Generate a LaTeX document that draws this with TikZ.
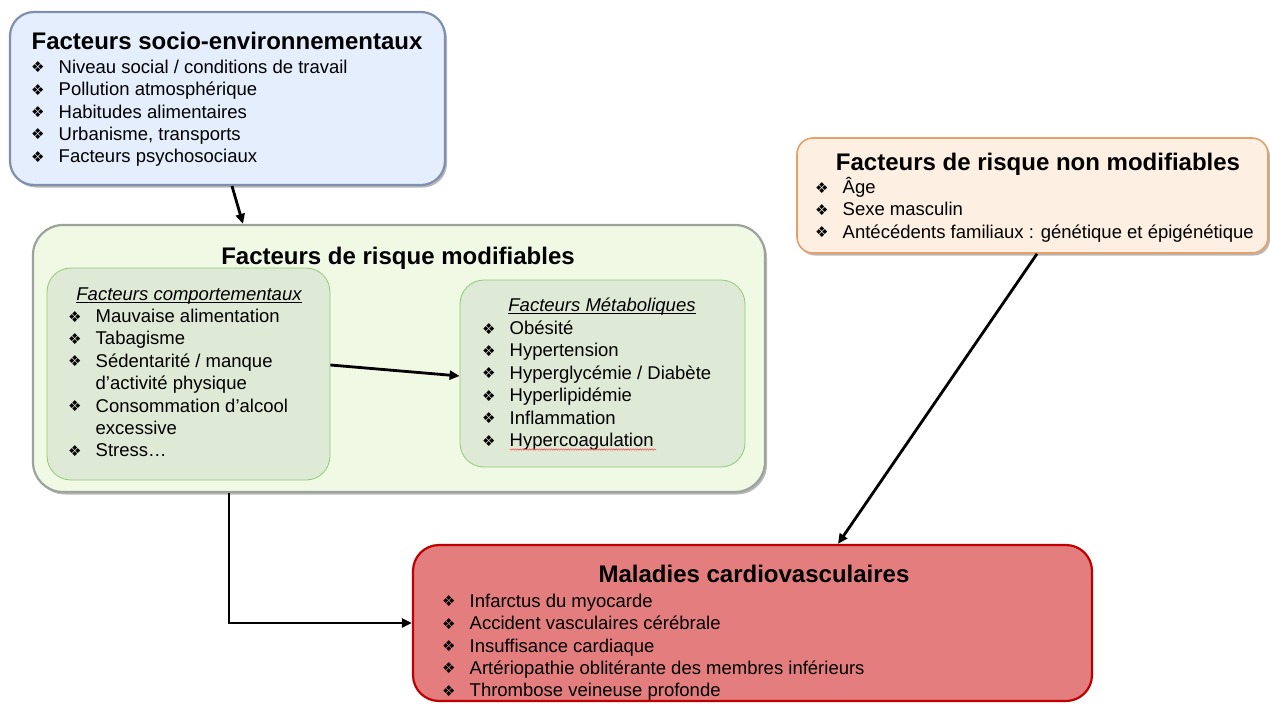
\documentclass[tikz,border=0pt]{standalone}
\usepackage{fontspec}
\setmainfont{Liberation Sans}
\newfontfamily\dingfont{DejaVu Sans}
\usetikzlibrary{arrows.meta,calc,positioning,shadows,decorations.pathmorphing}
\definecolor{socfill}{HTML}{E4EEFC}
\definecolor{socline}{HTML}{7F90AE}
\definecolor{modfill}{HTML}{EFF9E4}
\definecolor{modline}{HTML}{9CA39C}
\definecolor{infill}{HTML}{DFEAD6}
\definecolor{inline}{HTML}{92C87A}
\definecolor{nonfill}{HTML}{FDF0E2}
\definecolor{nonline}{HTML}{E3A06A}
\definecolor{cvdfill}{HTML}{E47D7D}
\definecolor{cvdline}{HTML}{C00000}
% puce, retrait et soulignement des listes
\newcommand{\bul}{\makebox[27.5pt][l]{\raisebox{0.5pt}{\dingfont\fontsize{15}{15}\selectfont ❖}}}
\newcommand{\nobul}{\hspace*{27.5pt}}
\newcommand{\topln}{\rule{0pt}{17pt}}
\newcommand{\ulin}[1]{\setbox0\hbox{#1}\rlap{\rule[-2.6pt]{\wd0}{0.9pt}}\box0}

\begin{document}
\begin{tikzpicture}[x=1pt, y=-1pt, >=Stealth,
  box/.style={draw, rounded corners=24pt, line width=2.2pt},
  shd/.style={drop shadow={shadow xshift=2pt, shadow yshift=-2.5pt, opacity=.4, fill=black!70}},
  inbox/.style={draw=inline, fill=infill, rounded corners=24pt, line width=0.8pt},
  ttl/.style={anchor=base, inner sep=0pt, font=\fontsize{24}{28}\selectfont\bfseries},
  sub/.style={anchor=base, inner sep=0pt, font=\fontsize{18.5}{22.4}\selectfont\itshape},
  lst/.style={anchor=north west, align=left, inner sep=0pt, font=\fontsize{18.5}{22.4}\selectfont},
  arr/.style={->, line width=2.8pt, >={Triangle[length=10pt,width=9pt]}}]
  \useasboundingbox (0,0) rectangle (1270,704);

  % cadres
  \node[box, shd, draw=socline, fill=socfill, minimum width=435pt, minimum height=173pt] (soc) at (227.5,98.5) {};
  \node[box, shd, draw=modline, fill=modfill, rounded corners=30pt, minimum width=732pt, minimum height=267pt] (modif) at (399,358.5) {};
  \node[inbox, minimum width=283pt, minimum height=212pt] (comp) at (188.5,374) {};
  \node[inbox, minimum width=285pt, minimum height=187pt] (meta) at (602.5,373.5) {};
  \node[box, shd, draw=nonline, fill=nonfill, line width=1.6pt, rounded corners=16pt, minimum width=471pt, minimum height=115pt] (nonmod) at (1032.5,195.5) {};
  \node[box, draw=cvdline, fill=cvdfill, rounded corners=26pt, minimum width=679pt, minimum height=156pt] (cvd) at (752.5,623) {};

  % titres
  \node[ttl] (socT) at (227,49.3) {Facteurs socio-environnementaux};
  \node[ttl] (modT) at (398,264) {Facteurs de risque modifiables};
  \node[sub] (compT) at (189,300) {\ulin{Facteurs comportementaux}};
  \node[sub] (metaT) at (602,311.7) {\ulin{Facteurs Métaboliques}};
  \node[ttl] (nonT) at (1038,170) {Facteurs de risque non modifiables};
  \node[ttl] (cvdT) at (754,582) {Maladies cardiovasculaires};

  % listes
  \node[lst] (socL) at (31,56) {\topln\bul Niveau social / conditions de travail\\ \bul Pollution atmosphérique\\
    \bul Habitudes alimentaires\\ \bul Urbanisme, transports\\ \bul Facteurs psychosociaux};
  \node[lst] (compL) at (68,305.3) {\topln\bul Mauvaise alimentation\\ \bul Tabagisme\\ \bul Sédentarité / manque\\
    \nobul d’activité physique\\ \bul Consommation d’alcool\\ \nobul excessive\\ \bul Stress…};
  \node[lst] (metaL) at (482,317.3) {\topln\bul Obésité\\ \bul Hypertension\\ \bul Hyperglycémie / Diabète\\
    \bul Hyperlipidémie\\ \bul Inflammation\\ \bul Hypercoagulation};
  \node[lst] (nonL) at (815,176.3) {\topln\bul Âge\\ \bul Sexe masculin\\ \bul Antécédents familiaux : génétique et épigénétique};
  \node[lst] (cvdL) at (442,590) {\topln\bul Infarctus du myocarde\\ \bul Accident vasculaires cérébrale\\ \bul Insuffisance cardiaque\\
    \bul Artériopathie oblitérante des membres inférieurs\\ \bul Thrombose veineuse profonde};
  \draw[red!65, line width=0.6pt, decorate, decoration={zigzag, amplitude=0.7pt, segment length=2.4pt}]
    ([xshift=28pt, yshift=1pt]metaL.south west) -- ++(146,0);

  % flèches
  \draw[arr] ([xshift=4.5pt]soc.south) -- ([xshift=-156pt]modif.north);
  \draw[arr] ([yshift=9pt]comp.east) -- ([yshift=-2.5pt]meta.west);
  \draw[arr] ([xshift=4.5pt]nonmod.south) -- ([xshift=85.5pt]cvd.north);
  \draw[arr] ([xshift=-170pt]modif.south) |- (cvd.west);
\end{tikzpicture}
\end{document}
